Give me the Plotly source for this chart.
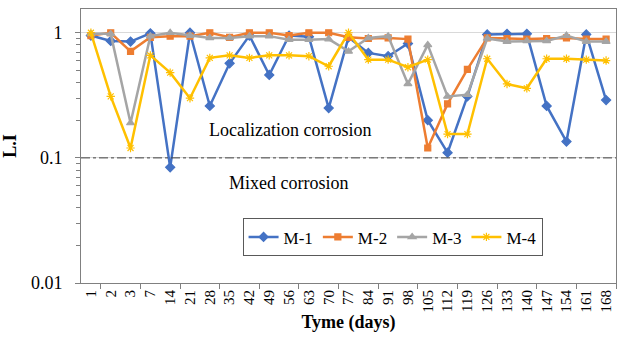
import plotly.graph_objects as go

days = ["1", "2", "3", "7", "14", "21", "28", "35", "42", "49", "56", "63", "70", "77",
        "84", "91", "98", "105", "112", "119", "126", "133", "140", "147", "154", "161", "168"]

m1 = [0.95, 0.86, 0.85, 0.99, 0.084, 1.0, 0.26, 0.57, 0.95, 0.46, 0.95, 0.93, 0.25, 0.92,
      0.69, 0.65, 0.82, 0.20, 0.11, 0.31, 0.97, 0.98, 0.98, 0.26, 0.135, 0.97, 0.29]
m2 = [0.95, 1.0, 0.71, 0.92, 0.94, 0.94, 1.0, 0.92, 1.0, 1.0, 0.95, 1.0, 1.0, 0.92,
      0.90, 0.91, 0.89, 0.12, 0.27, 0.51, 0.91, 0.90, 0.89, 0.90, 0.91, 0.89, 0.89]
m3 = [0.98, 0.98, 0.19, 0.94, 1.0, 0.95, 0.91, 0.91, 0.94, 0.94, 0.88, 0.88, 0.89, 0.71,
      0.91, 0.94, 0.39, 0.80, 0.31, 0.32, 0.90, 0.85, 0.86, 0.86, 0.95, 0.85, 0.85]
m4 = [1.0, 0.31, 0.12, 0.66, 0.48, 0.30, 0.63, 0.66, 0.63, 0.66, 0.66, 0.65, 0.54, 1.0,
      0.61, 0.61, 0.53, 0.61, 0.155, 0.155, 0.62, 0.39, 0.36, 0.62, 0.62, 0.61, 0.60]

series = [
    ("M-1", m1, "#4472C4", "diamond", 7),
    ("M-2", m2, "#ED7D31", "square", 6),
    ("M-3", m3, "#A5A5A5", "triangle-up", 7),
    ("M-4", m4, "#FFC000", "asterisk-open", 7),
]

FONT = "Liberation Serif, Times New Roman, DejaVu Serif, serif"
idx = list(range(len(days)))

fig = go.Figure()
for name, vals, col, sym, sz in series:
    fig.add_trace(go.Scatter(
        x=idx, y=vals, name=name, mode="lines+markers",
        line=dict(color=col, width=2.5),
        marker=dict(symbol=sym, size=sz, color=col, line=dict(color=col, width=1.2)),
    ))

# invisible trace to activate tick axis (tick marks every two categories)
fig.add_trace(go.Scatter(x=[idx[0]], y=[1], xaxis="x2", mode="markers",
                         marker=dict(opacity=0), showlegend=False, hoverinfo="skip"))

n = len(days)
fig.update_layout(
    width=627, height=341,
    margin=dict(l=78, r=11, t=8, b=58),
    paper_bgcolor="white", plot_bgcolor="white",
    font=dict(family=FONT, size=16, color="black"),
    showlegend=True,
    legend=dict(
        orientation="h", x=0.302, y=0.236, xanchor="left", yanchor="top",
        bordercolor="#595959", borderwidth=1, bgcolor="white",
        font=dict(family=FONT, size=17, color="black"),
        itemwidth=30, tracegroupgap=0,
    ),
    xaxis=dict(
        range=[-0.5, n - 0.5], tickmode="array", tickvals=idx, ticktext=days,
        tickangle=-90, ticks="", showgrid=False, zeroline=False,
        showline=True, linecolor="#808080", linewidth=1, mirror=True,
        tickfont=dict(family=FONT, size=15, color="black"),
        title=dict(text="<b>Tyme (days)</b>", font=dict(family=FONT, size=18), standoff=3),
    ),
    xaxis2=dict(
        overlaying="x", range=[-0.5, n - 0.5], tickmode="array",
        tickvals=[i + 0.5 for i in range(0, n, 2)], ticks="outside", ticklen=5,
        tickcolor="#808080", showticklabels=False, showgrid=False, zeroline=False,
        side="bottom", showline=False,
    ),
    yaxis=dict(
        type="log", range=[-2, 0.19], tickmode="array", tickvals=[0.01, 0.1, 1],
        ticktext=["0.01", "0.1", "1"], ticks="outside", ticklen=5, tickcolor="#808080",
        showgrid=True, gridcolor="#D9D9D9", gridwidth=1, zeroline=False,
        showline=True, linecolor="#808080", linewidth=1, mirror=True,
        minor=dict(tickvals=[k * 10 ** e for e in (-2, -1) for k in range(2, 10)],
                   ticks="outside", ticklen=4, tickcolor="#808080", showgrid=False),
        tickfont=dict(family=FONT, size=18, color="black"),
        ticklabelstandoff=9,
        title=dict(text="<b>L.I</b>", font=dict(family=FONT, size=18), standoff=10),
    ),
    shapes=[dict(type="line", xref="paper", x0=0, x1=1, yref="y", y0=0.1, y1=0.1,
                 line=dict(color="#404040", width=1, dash="dashdot"), layer="above")],
    annotations=[
        dict(text="Localization corrosion", x=0.391, y=-0.78, xref="paper", yref="y",
             showarrow=False, font=dict(family=FONT, size=18, color="black")),
        dict(text="Mixed corrosion", x=0.387, y=-1.20, xref="paper", yref="y",
             showarrow=False, font=dict(family=FONT, size=18, color="black")),
    ],
)

fig.write_html("out.html")
